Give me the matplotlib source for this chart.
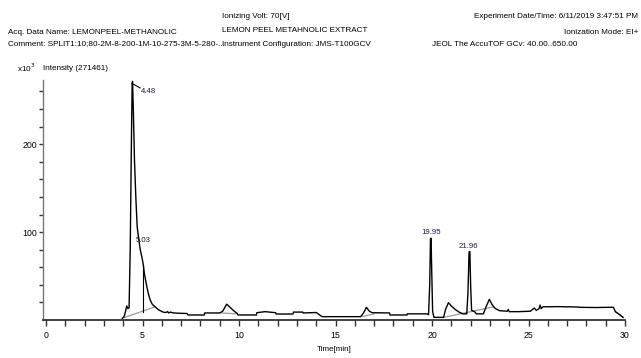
import matplotlib
matplotlib.use('Agg')
import matplotlib.pyplot as plt

# chromatogram trace (time in min, intensity x10^3)
time = [3.95, 4.05, 4.12, 4.18, 4.24, 4.30, 4.36, 4.42, 4.46, 4.48, 4.52, 4.58, 4.65,
        4.72, 4.80, 4.88, 4.96, 5.03, 5.10, 5.22, 5.30, 5.39, 5.50, 5.65, 5.80, 6.06,
        6.20, 6.30, 6.35, 6.45, 6.60, 7.00, 7.30, 7.36, 8.20, 8.22, 9.00, 9.15, 9.36,
        9.55, 9.75, 9.90, 9.95, 10.90, 10.92, 11.35, 11.90, 11.92, 12.80, 12.82, 13.30,
        13.32, 14.00, 14.30, 16.30, 16.45, 16.60, 16.75, 16.90, 17.80, 17.82, 18.70,
        18.72, 19.75, 19.82, 19.88, 19.92, 19.95, 19.98, 20.03, 20.07, 20.10, 20.60,
        20.70, 20.85, 21.00, 21.20, 21.40, 21.60, 21.80, 21.86, 21.92, 21.96, 22.00,
        22.05, 22.20, 22.30, 22.66, 22.80, 22.97, 23.10, 23.26, 23.50, 23.90, 23.95,
        24.00, 24.50, 25.10, 25.30, 25.40, 25.55, 25.60, 25.65, 25.75, 26.50, 27.50,
        27.70, 28.50, 29.40, 29.50, 29.75, 29.90]
intensity = [2, 4, 10, 16, 13, 14, 80, 200, 269, 271.5, 240, 182, 140,
             106, 92, 80, 72, 64, 52, 38, 30, 23, 18, 15, 12, 9,
             8.5, 9.5, 8, 9, 8, 7.6, 7.4, 5.7, 5.7, 8, 8, 10, 18,
             14, 10, 7.5, 5.7, 5.7, 8.3, 9.5, 8.3, 6.8, 6.8, 9, 9,
             8, 8.5, 3.8, 3.8, 8, 14.4, 10, 8.3, 8, 5.7, 5.7,
             7, 7, 6, 40, 92.8, 93, 60, 10, 5.7, 3, 3,
             12, 19.7, 16, 12, 9, 7, 7, 30, 77.6, 78, 40,
             11, 9.5, 7, 7, 15, 23.5, 18, 13.3, 10.6, 10, 12,
             9.5, 9.5, 10, 13.6, 11, 13, 17, 13, 15, 15.2, 14.8,
             14.4, 14.2, 14.5, 9.5, 5.7, 3]

# integration baselines (grey)
base_t = [[3.95, 5.65], [9.10, 9.90], [16.40, 17.00], [20.60, 23.20], [29.50, 29.90]]
base_i = [[2, 15], [8, 7], [4, 7], [3, 15], [9.5, 3]]

# labelled peaks
peak_lbl = ['4.48', '5.03', '19.95', '21.96']
peak_t = [4.92, 5.03, 19.95, 21.90]
peak_i = [260, 86, 95, 80]

header_left = ['Acq. Data Name: LEMONPEEL-METHANOLIC',
               'Comment: SPLIT1:10;80-2M-8-200-1M-10-275-3M-5-280-...']
header_mid = ['Ionizing Volt: 70[V]', 'LEMON PEEL METAHNOLIC EXTRACT',
              'Instrument Configuration: JMS-T100GCV']
header_right = ['Experiment Date/Time: 6/11/2019 3:47:51 PM', 'Ionization Mode: EI+']

plt.rcParams['font.family'] = ['Liberation Sans', 'DejaVu Sans']
fs = 5.9

fig = plt.figure(figsize=(6.41, 3.58), dpi=100)
ax = fig.add_axes([43 / 641, 1 - 320 / 358, 582 / 641, 240 / 358])

for bt, bi in zip(base_t, base_i):
    ax.plot(bt, bi, color='#9a9a9a', lw=0.9)
ax.plot([5.0, 5.0], [9, 62], color='black', lw=0.8)
ax.plot([4.46, 4.87], [269, 264], color='black', lw=0.8)
ax.plot(time, intensity, color='black', lw=1.0)

for lbl, t, v in zip(peak_lbl, peak_t, peak_i):
    ha = 'left' if lbl == '4.48' else 'center'
    ax.text(t, v, lbl, fontsize=5.6, ha=ha, va='bottom' if ha == 'center' else 'center',
            color='#1c1c3a')

ax.set_xlim(-0.16, 30)
ax.set_ylim(0, 273)
ax.set_xticks(range(0, 31, 5))
ax.set_xticks(range(0, 31), minor=True)
ax.set_yticks([100, 200])
ax.set_yticks(range(20, 271, 20), minor=True)
ax.tick_params(axis='x', which='both', length=4, width=1, colors='#333333',
               labelsize=6.3, pad=4, labelcolor='black')
ax.tick_params(axis='y', which='both', length=3, width=1, colors='#333333',
               labelsize=6.3, pad=1, labelcolor='black')
for s in ['top', 'right']:
    ax.spines[s].set_visible(False)
ax.spines['bottom'].set_color('#333333')
ax.spines['bottom'].set_linewidth(1.3)
ax.spines['left'].set_color('#777777')
ax.spines['left'].set_linewidth(1.0)
ax.set_xlabel('Time[min]', fontsize=5.8, labelpad=4)

# header text
for k, s in enumerate(header_left):
    fig.text(8 / 641, 1 - (32 + 12 * k) / 358, s, fontsize=fs, va='center')
for k, s in enumerate(header_mid):
    fig.text(222 / 641, 1 - (16 + 14 * k) / 358, s, fontsize=fs, va='center')
for k, s in enumerate(header_right):
    fig.text(638 / 641, 1 - (17 + 15 * k) / 358, s, fontsize=fs, va='center', ha='right')
fig.text(432 / 641, 1 - 44 / 358, 'JEOL The AccuTOF GCv: 40.00..650.00', fontsize=fs, va='center')
fig.text(17 / 641, 1 - 68 / 358, r'x10$^3$', fontsize=fs, va='center')
fig.text(43 / 641, 1 - 68 / 358, 'Intensity (271461)', fontsize=fs, va='center')

fig.savefig('out.png', dpi=100)
